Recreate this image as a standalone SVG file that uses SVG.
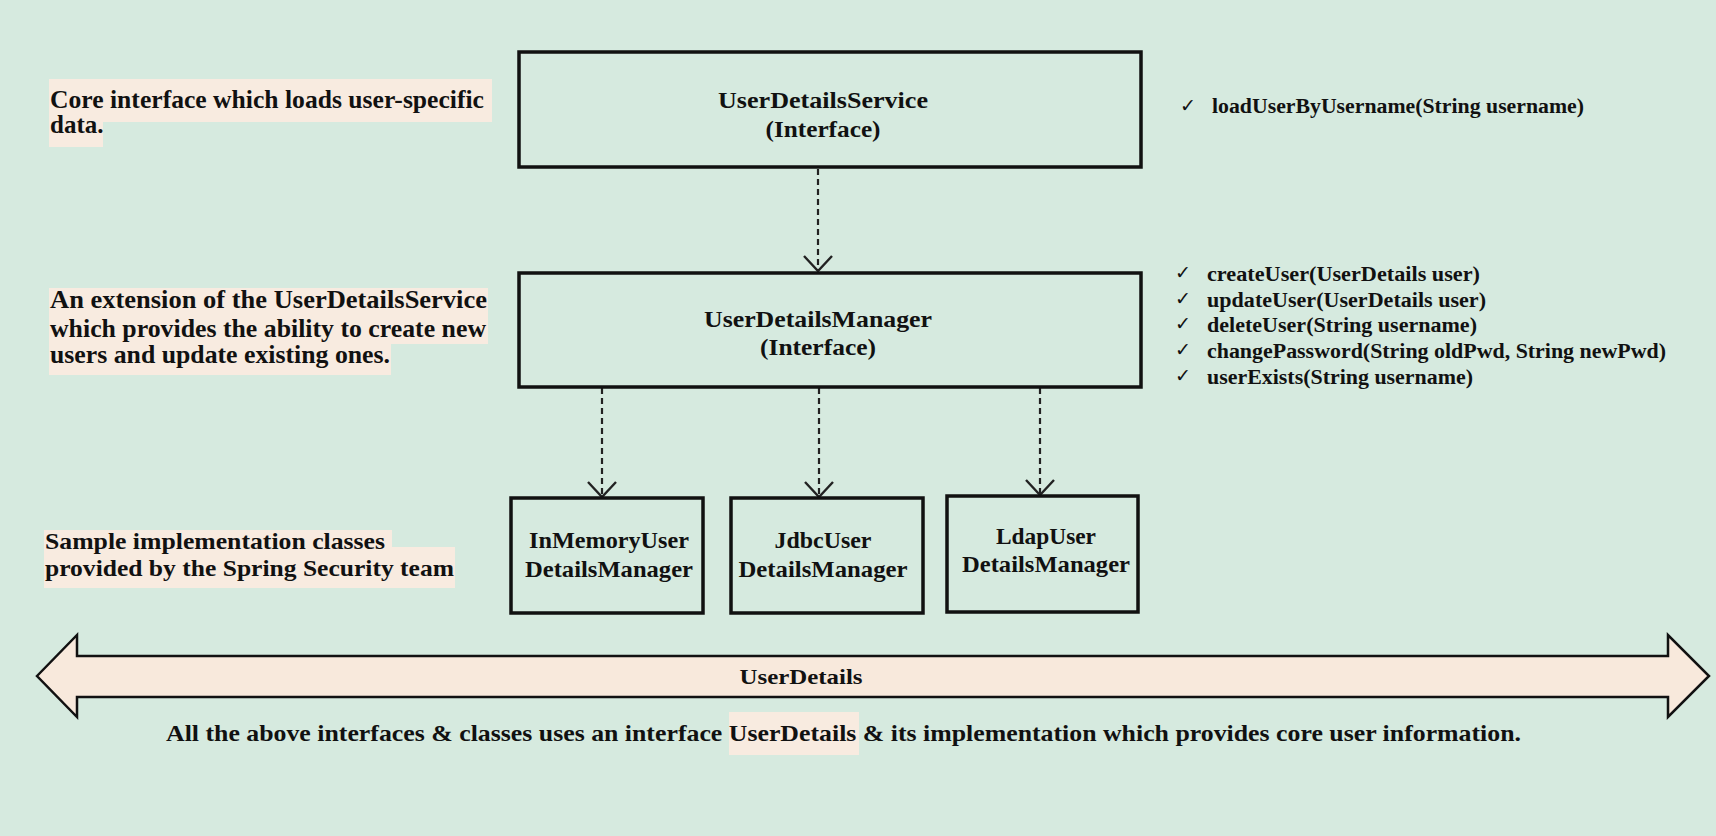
<svg xmlns="http://www.w3.org/2000/svg" width="1716" height="836" viewBox="0 0 1716 836">
<style>
.t{font-family:"Liberation Serif","Times New Roman",serif;font-weight:bold;fill:#111;}
.box{fill:none;stroke:#111;stroke-width:3.5;}
.hl{fill:#f8ebe0;}
.dash{stroke:#222;stroke-width:2.2;stroke-dasharray:6 4;fill:none;}
.head{stroke:#222;stroke-width:2.4;fill:none;}
.chk{font-family:"DejaVu Sans",sans-serif;font-weight:bold;fill:#111;font-size:19px;}
</style>
<rect width="1716" height="836" fill="#d6eadf"/>

<g id="note-service">
<rect class="hl" x="49" y="79" width="443" height="43"/>
<rect class="hl" x="49" y="121" width="54" height="26"/>
<text class="t" x="50" y="108" font-size="25" textLength="434" lengthAdjust="spacingAndGlyphs">Core interface which loads user-specific</text>
<text class="t" x="50" y="133" font-size="25">data.</text>
</g>

<g id="note-manager">
<rect class="hl" x="49" y="288" width="439" height="56"/>
<rect class="hl" x="49" y="343" width="342" height="32"/>
<text class="t" x="50" y="308" font-size="25" textLength="437" lengthAdjust="spacingAndGlyphs">An extension of  the UserDetailsService</text>
<text class="t" x="50" y="337" font-size="25" textLength="436" lengthAdjust="spacingAndGlyphs">which provides the ability to create new</text>
<text class="t" x="50" y="363" font-size="25" textLength="340" lengthAdjust="spacingAndGlyphs">users and update existing ones.</text>
</g>

<g id="note-impl">
<rect class="hl" x="44" y="530" width="348" height="18"/>
<rect class="hl" x="44" y="547" width="411" height="41"/>
<text class="t" x="45" y="549" font-size="23" textLength="340" lengthAdjust="spacingAndGlyphs">Sample implementation classes</text>
<text class="t" x="45" y="576" font-size="23" textLength="409" lengthAdjust="spacingAndGlyphs">provided by the Spring Security team</text>
</g>

<g id="connectors">
<line class="dash" x1="818" y1="169" x2="818" y2="270"/>
<polyline class="head" points="804,256 818,271 832,256"/>
<line class="dash" x1="602" y1="388" x2="602" y2="496"/>
<polyline class="head" points="588,482 602,497 616,482"/>
<line class="dash" x1="819" y1="388" x2="819" y2="496"/>
<polyline class="head" points="805,482 819,497 833,482"/>
<line class="dash" x1="1040" y1="388" x2="1040" y2="494"/>
<polyline class="head" points="1026,480 1040,495 1054,480"/>
</g>

<g id="UserDetailsService">
<rect class="box" x="519" y="52" width="622" height="115"/>
<text class="t" x="823" y="108" font-size="24" text-anchor="middle" textLength="210" lengthAdjust="spacingAndGlyphs">UserDetailsService</text>
<text class="t" x="823" y="137" font-size="24" text-anchor="middle" textLength="115" lengthAdjust="spacingAndGlyphs">(Interface)</text>
</g>

<g id="UserDetailsManager">
<rect class="box" x="519" y="273" width="622" height="114"/>
<text class="t" x="818" y="327" font-size="24" text-anchor="middle" textLength="228" lengthAdjust="spacingAndGlyphs">UserDetailsManager</text>
<text class="t" x="818" y="355" font-size="24" text-anchor="middle" textLength="116" lengthAdjust="spacingAndGlyphs">(Interface)</text>
</g>

<g id="InMemoryUserDetailsManager">
<rect class="box" x="511" y="498" width="192" height="115"/>
<text class="t" x="609" y="548" font-size="23" text-anchor="middle" textLength="160" lengthAdjust="spacingAndGlyphs">InMemoryUser</text>
<text class="t" x="609" y="577" font-size="23" text-anchor="middle" textLength="168" lengthAdjust="spacingAndGlyphs">DetailsManager</text>
</g>

<g id="JdbcUserDetailsManager">
<rect class="box" x="731" y="498" width="192" height="115"/>
<text class="t" x="823" y="548" font-size="23" text-anchor="middle" textLength="97" lengthAdjust="spacingAndGlyphs">JdbcUser</text>
<text class="t" x="823" y="577" font-size="23" text-anchor="middle" textLength="169" lengthAdjust="spacingAndGlyphs">DetailsManager</text>
</g>

<g id="LdapUserDetailsManager">
<rect class="box" x="947" y="496" width="191" height="116"/>
<text class="t" x="1046" y="544" font-size="23" text-anchor="middle" textLength="100" lengthAdjust="spacingAndGlyphs">LdapUser</text>
<text class="t" x="1046" y="572" font-size="23" text-anchor="middle" textLength="168" lengthAdjust="spacingAndGlyphs">DetailsManager</text>
</g>

<g id="service-methods">
<text class="chk" x="1180" y="112">✓</text>
<text class="t" x="1212" y="113" font-size="20" textLength="372" lengthAdjust="spacingAndGlyphs">loadUserByUsername(String username)</text>
</g>

<g id="manager-methods">
<text class="chk" x="1175" y="279">✓</text>
<text class="t" x="1207" y="281" font-size="20" textLength="273" lengthAdjust="spacingAndGlyphs">createUser(UserDetails user)</text>
<text class="chk" x="1175" y="305">✓</text>
<text class="t" x="1207" y="307" font-size="20" textLength="279" lengthAdjust="spacingAndGlyphs">updateUser(UserDetails user)</text>
<text class="chk" x="1175" y="330">✓</text>
<text class="t" x="1207" y="332" font-size="20" textLength="270" lengthAdjust="spacingAndGlyphs">deleteUser(String username)</text>
<text class="chk" x="1175" y="356">✓</text>
<text class="t" x="1207" y="358" font-size="20" textLength="459" lengthAdjust="spacingAndGlyphs">changePassword(String oldPwd, String newPwd)</text>
<text class="chk" x="1175" y="382">✓</text>
<text class="t" x="1207" y="384" font-size="20" textLength="266" lengthAdjust="spacingAndGlyphs">userExists(String username)</text>
</g>

<g id="UserDetails">
<path d="M37,676 L77,635 L77,656 L1668,656 L1668,635 L1709,676 L1668,717 L1668,697 L77,697 L77,717 Z" fill="#f8e9dc" stroke="#111" stroke-width="2.5" stroke-linejoin="miter"/>
<text class="t" x="801" y="684" font-size="22" text-anchor="middle" textLength="123" lengthAdjust="spacingAndGlyphs">UserDetails</text>
</g>

<g id="footer">
<rect class="hl" x="729" y="712" width="130" height="43"/>
<text class="t" x="166" y="741" font-size="23" textLength="1355" lengthAdjust="spacingAndGlyphs">All the above interfaces &amp; classes uses an interface UserDetails &amp; its implementation which provides core user information.</text>
</g>
</svg>
